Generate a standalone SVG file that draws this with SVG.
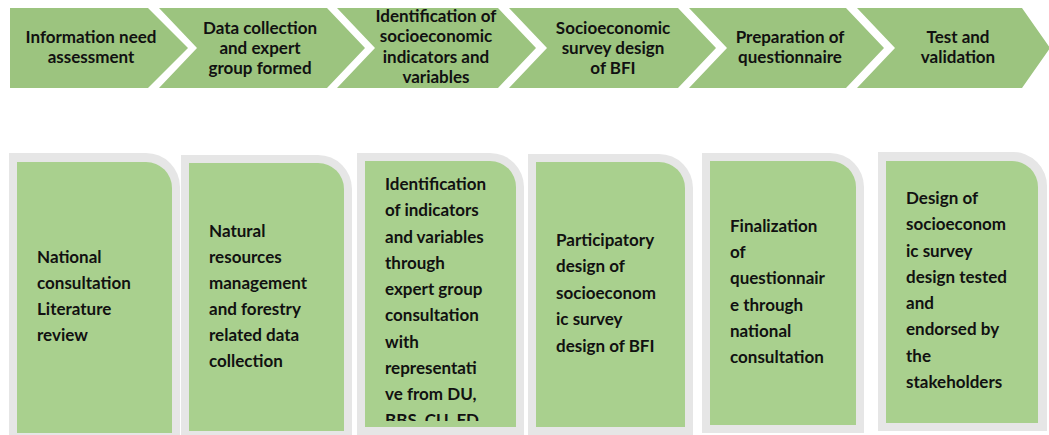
<svg xmlns="http://www.w3.org/2000/svg" width="1049" height="435" viewBox="0 0 1049 435">
<style>
.chev{fill:#9CC47F}
.outer{fill:#E6E6E6}
.inner{fill:#A9D08E}
text{font-family:Lato,"Open Sans",sans-serif;font-weight:bold;font-size:17px;fill:#111}
.c{text-anchor:middle}
</style>
<defs>
<clipPath id="clip3"><rect x="365" y="161" width="151" height="260"/></clipPath>
</defs>
<rect width="1049" height="435" fill="#fff"/>
<g id="step1">
<path class="chev" d="M10,8 H148 L188,48 L148,88 H10 Z"/>
<text class="c" x="91" y="43">Information need</text>
<text class="c" x="91" y="63">assessment</text>
</g>
<g id="step2">
<path class="chev" d="M159,8 H327 L365,48 L327,88 H159 L197,48 Z"/>
<text class="c" x="260" y="33.5">Data collection</text>
<text class="c" x="260" y="53.5">and expert</text>
<text class="c" x="260" y="73.5">group formed</text>
</g>
<g id="step3">
<path class="chev" d="M337,8 H498 L536,48 L498,88 H337 L375,48 Z"/>
<text class="c" x="436" y="22">Identification of</text>
<text class="c" x="436" y="42.3">socioeconomic</text>
<text class="c" x="436" y="62.6">indicators and</text>
<text class="c" x="436" y="83">variables</text>
</g>
<g id="step4">
<path class="chev" d="M509,8 H678 L716,48 L678,88 H509 L547,48 Z"/>
<text class="c" x="613" y="33.5">Socioeconomic</text>
<text class="c" x="613" y="53.5">survey design</text>
<text class="c" x="613" y="73.5">of BFI</text>
</g>
<g id="step5">
<path class="chev" d="M689,8 H846 L884,48 L846,88 H689 L727,48 Z"/>
<text class="c" x="790" y="43">Preparation of</text>
<text class="c" x="790" y="63">questionnaire</text>
</g>
<g id="step6">
<path class="chev" d="M857,8 H1022 L1050,48 L1022,88 H857 L895,48 Z"/>
<text class="c" x="958" y="43">Test and</text>
<text class="c" x="958" y="63">validation</text>
</g>
<g id="connectors"></g>
<g id="box1">
<path class="outer" d="M9,153 H146 A34,34 0 0 1 180,187 V441 H9 Z"/>
<path class="inner" d="M17,162 H146 A26,26 0 0 1 172,188 V433 H17 Z"/>
<text x="37" y="263">National</text>
<text x="37" y="289">consultation</text>
<text x="37" y="315">Literature</text>
<text x="37" y="341">review</text>
</g>
<g id="box2">
<path class="outer" d="M181,155 H318 A34,34 0 0 1 352,189 V441 H181 Z"/>
<path class="inner" d="M189,163 H318 A26,26 0 0 1 344,189 V431 H189 Z"/>
<text x="209" y="237">Natural</text>
<text x="209" y="263">resources</text>
<text x="209" y="289">management</text>
<text x="209" y="315">and forestry</text>
<text x="209" y="341">related data</text>
<text x="209" y="367">collection</text>
</g>
<g id="box3">
<path class="outer" d="M357,153 H490 A34,34 0 0 1 524,187 V435 H357 Z"/>
<path class="inner" d="M365,161 H490 A26,26 0 0 1 516,187 V427 H365 Z"/>
<g clip-path="url(#clip3)">
<text x="385" y="190">Identification</text>
<text x="385" y="216.3">of indicators</text>
<text x="385" y="242.5">and variables</text>
<text x="385" y="268.8">through</text>
<text x="385" y="295">expert group</text>
<text x="385" y="321.3">consultation</text>
<text x="385" y="347.5">with</text>
<text x="385" y="373.8">representati</text>
<text x="385" y="400">ve from DU,</text>
<text x="385" y="426.3">BBS, CU, FD</text>
</g>
</g>
<g id="box4">
<path class="outer" d="M528,154 H659 A34,34 0 0 1 693,188 V435 H528 Z"/>
<path class="inner" d="M536,162 H659 A26,26 0 0 1 685,188 V427 H536 Z"/>
<text x="556" y="245.5">Participatory</text>
<text x="556" y="272">design of</text>
<text x="556" y="298.5">socioeconom</text>
<text x="556" y="325">ic survey</text>
<text x="556" y="351.5">design of BFI</text>
</g>
<g id="box5">
<path class="outer" d="M702,153 H830 A34,34 0 0 1 864,187 V433 H702 Z"/>
<path class="inner" d="M710,161 H830 A26,26 0 0 1 856,187 V425 H710 Z"/>
<text x="730" y="232">Finalization</text>
<text x="730" y="258.2">of</text>
<text x="730" y="284.4">questionnair</text>
<text x="730" y="310.6">e through</text>
<text x="730" y="336.8">national</text>
<text x="730" y="363">consultation</text>
</g>
<g id="box6">
<path class="outer" d="M878,152 H1012 A34,34 0 0 1 1047,187 V431 H878 Z"/>
<path class="inner" d="M886,161 H1012 A26,26 0 0 1 1038,187 V423 H886 Z"/>
<text x="906" y="204">Design of</text>
<text x="906" y="230.3">socioeconom</text>
<text x="906" y="256.6">ic survey</text>
<text x="906" y="282.9">design tested</text>
<text x="906" y="309.1">and</text>
<text x="906" y="335.4">endorsed by</text>
<text x="906" y="361.7">the</text>
<text x="906" y="388">stakeholders</text>
</g>
</svg>
